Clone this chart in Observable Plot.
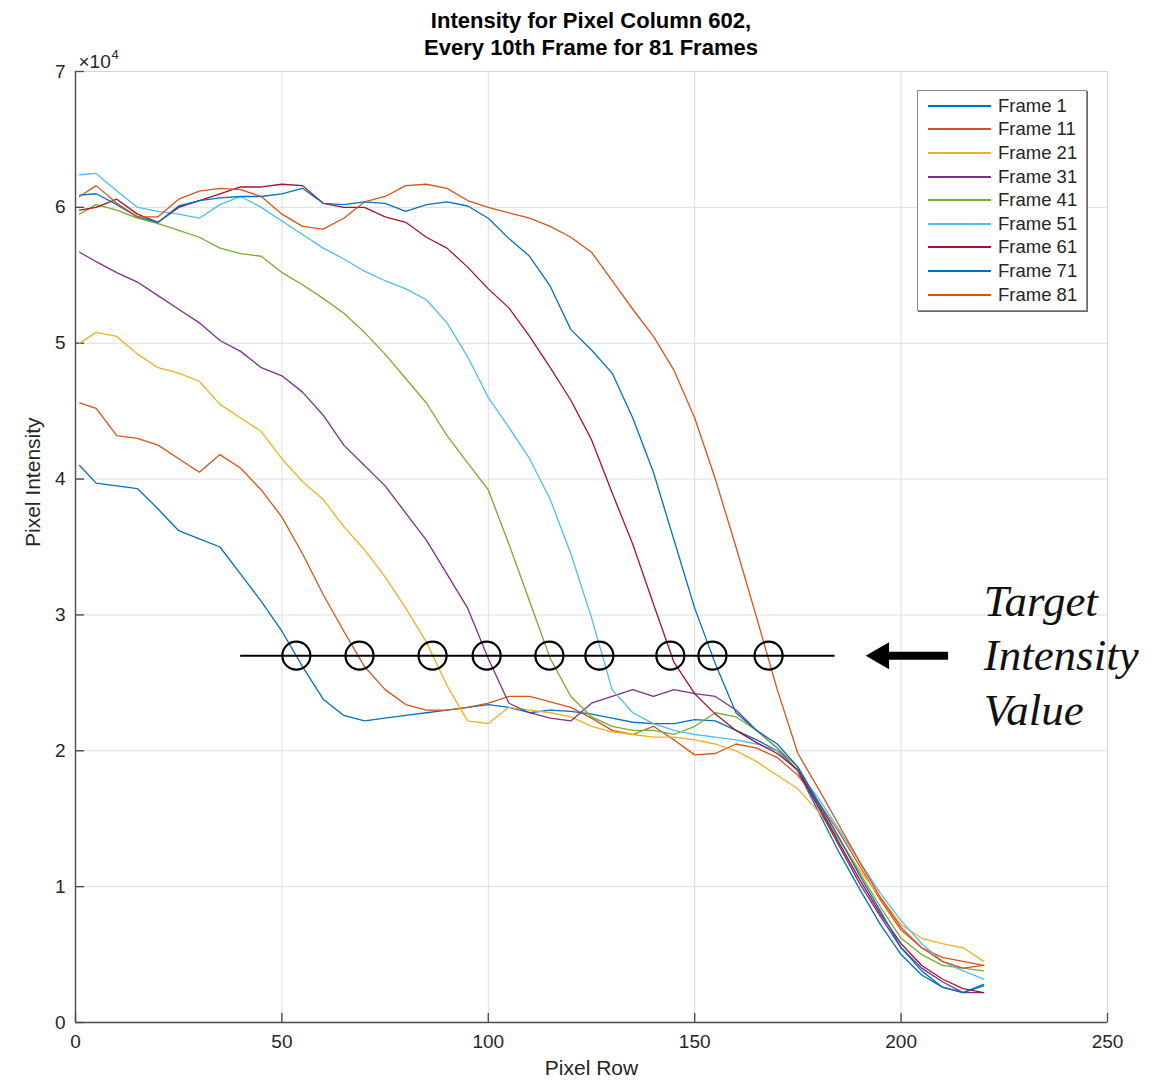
<!DOCTYPE html>
<html>
<head>
<meta charset="utf-8">
<script src="https://cdn.jsdelivr.net/npm/d3@7"></script>
<script src="https://cdn.jsdelivr.net/npm/@observablehq/plot@0.6"></script>
<style>
  body { margin: 0; background: #fff; font-family: "Liberation Sans", Arial, sans-serif; }
  #wrap { position: relative; width: 1170px; height: 1084px; overflow: hidden; }
  #title { box-sizing: border-box; width: 1170px; height: 58px; padding: 7px 63px 0 75px;
           text-align: center; font-weight: bold; font-size: 22px; line-height: 27px; color: #000; }
  #legend { position: absolute; left: 917px; top: 90px; width: 170px; height: 221px; box-sizing: border-box;
            border: 1px solid #8c8c8c; box-shadow: 1px 1px 0 #6a6a6a; background: #fff; padding-top: 3px; }
  .row { height: 23.6px; display: flex; align-items: center; }
  .swatch { width: 63px; height: 0; border-top: 2px solid; margin-left: 10px; margin-right: 7px; }
  .lab { font-size: 18.5px; color: #262626; white-space: nowrap; }
  svg { display: block; }
</style>
</head>
<body>
<div id="wrap">
  <div id="title">Intensity for Pixel Column 602,<br>Every 10th Frame for 81 Frames</div>
  <div id="chart"></div>
  <div id="legend"></div>
</div>
<script>
// ---- data (intensity in units of 10^4) ----
const frames = ["Frame 1","Frame 11","Frame 21","Frame 31","Frame 41","Frame 51","Frame 61","Frame 71","Frame 81"];
const colors = ["#0072BD","#D95319","#EDB120","#7E2F8E","#77AC30","#4DBEEE","#A2142F","#0072BD","#D95319"];
const rows = [1,5,10,15,20,25,30,35,40,45,50,55,60,65,70,75,80,85,90,95,100,105,110,115,120,125,130,135,140,145,150,155,160,165,170,175,180,185,190,195,200,205,210,215,220];

const frame1  = [4.10,3.97,3.95,3.93,3.78, 3.62,3.56,3.50,3.30,3.10, 2.88,2.62,2.38,2.26,2.22, 2.24,2.26,2.28,2.30,2.32, 2.34,2.32,2.28,2.30,2.29, 2.27,2.24,2.21,2.20,2.20, 2.23,2.22,2.15,2.08,2.00, 1.85,1.55,1.25,0.98,0.72, 0.50,0.35,0.26,0.22,0.27];
const frame11 = [4.56,4.52,4.32,4.30,4.25, 4.15,4.05,4.18,4.08,3.92, 3.72,3.45,3.15,2.88,2.62, 2.45,2.34,2.30,2.30,2.32, 2.35,2.40,2.40,2.36,2.32, 2.24,2.15,2.12,2.18,2.08, 1.97,1.98,2.05,2.02,1.95, 1.82,1.62,1.40,1.15,0.90, 0.68,0.55,0.48,0.45,0.42];
const frame21 = [5.00,5.08,5.05,4.92,4.82, 4.78,4.72,4.55,4.45,4.35, 4.15,3.98,3.85,3.65,3.48, 3.28,3.05,2.80,2.48,2.22, 2.20,2.32,2.30,2.28,2.25, 2.18,2.14,2.12,2.10,2.10, 2.08,2.05,2.00,1.92,1.82, 1.72,1.55,1.35,1.12,0.92, 0.72,0.62,0.58,0.55,0.45];
const frame31 = [5.67,5.60,5.52,5.45,5.35, 5.25,5.15,5.02,4.94,4.82, 4.76,4.64,4.47,4.25,4.10, 3.95,3.75,3.55,3.30,3.05, 2.68,2.35,2.28,2.24,2.22, 2.35,2.40,2.45,2.40,2.45, 2.42,2.40,2.30,2.15,2.02, 1.85,1.58,1.30,1.02,0.78, 0.55,0.40,0.30,0.22,0.22];
const frame41 = [5.95,6.02,5.98,5.92,5.88, 5.83,5.78,5.70,5.66,5.64, 5.52,5.43,5.33,5.22,5.08, 4.92,4.74,4.56,4.32,4.12, 3.92,3.52,3.10,2.68,2.40, 2.25,2.18,2.15,2.15,2.12, 2.18,2.28,2.25,2.15,2.02, 1.88,1.62,1.35,1.10,0.85, 0.62,0.50,0.42,0.40,0.38];
const frame51 = [6.24,6.25,6.12,6.00,5.97, 5.95,5.92,6.02,6.08,6.00, 5.90,5.80,5.70,5.62,5.53, 5.46,5.40,5.32,5.15,4.90, 4.60,4.38,4.15,3.85,3.45, 2.98,2.45,2.28,2.20,2.15, 2.12,2.10,2.08,2.05,2.00, 1.85,1.65,1.42,1.18,0.95, 0.75,0.58,0.45,0.38,0.32];
const frame61 = [5.98,6.00,6.06,5.95,5.89, 6.00,6.05,6.10,6.15,6.15, 6.17,6.16,6.03,6.00,6.00, 5.93,5.89,5.78,5.70,5.56, 5.40,5.26,5.05,4.82,4.58, 4.29,3.90,3.52,3.08,2.65, 2.42,2.27,2.15,2.06,1.98, 1.86,1.60,1.32,1.05,0.80, 0.58,0.42,0.32,0.25,0.22];
const frame71 = [6.09,6.10,6.02,5.93,5.89, 6.01,6.05,6.07,6.08,6.08, 6.10,6.14,6.03,6.02,6.04, 6.03,5.97,6.02,6.04,6.01, 5.92,5.77,5.64,5.42,5.10, 4.95,4.78,4.45,4.05,3.55, 3.05,2.64,2.28,2.15,2.05, 1.88,1.62,1.36,1.08,0.82, 0.55,0.38,0.26,0.22,0.28];
const frame81 = [6.08,6.16,6.03,5.93,5.93, 6.06,6.12,6.14,6.13,6.08, 5.95,5.86,5.84,5.92,6.04, 6.08,6.16,6.17,6.14,6.05, 6.00,5.96,5.92,5.86,5.78, 5.67,5.46,5.25,5.05,4.80, 4.45,4.00,3.50,2.98,2.45, 1.98,1.72,1.45,1.18,0.92, 0.70,0.55,0.45,0.40,0.42];
const seriesValues = [frame1, frame11, frame21, frame31, frame41, frame51, frame61, frame71, frame81];

// annotation values
const targetIntensity = 2.7;                 // ×10^4
const crossingRows = [53.5, 68.8, 86.5, 99.6, 114.8, 126.9, 144.1, 154.3, 167.9];
const targetLineRows = [40, 184];
const arrowShaftRows = [197, 211.5];
const arrowHeadRow = [195.2];
const annotationRow = 220;
const annotationWords = ["Target", "Intensity", "Value"];

// axes
const xTicks = [0, 50, 100, 150, 200, 250];
const yTicks = [0, 1, 2, 3, 4, 5, 6, 7];
const xLabel = "Pixel Row";
const yLabel = "Pixel Intensity";
const yMultiplier = "×10";
const yExponent = "4";

// ---- build table ----
const table = frames.flatMap((f, i) => rows.map((r, j) => ({frame: f, row: r, value: seriesValues[i][j]})));

const axisColor = "#4d4d4d";
const textColor = "#262626";

const chart = Plot.plot({
  width: 1170,
  height: 1026,
  marginTop: 13,
  marginBottom: 62,
  marginLeft: 75,
  marginRight: 63,
  style: {fontFamily: "Liberation Sans, Arial, sans-serif", overflow: "visible", background: "transparent"},
  x: {domain: [0, 250]},
  y: {domain: [0, 7]},
  color: {domain: frames, range: colors},
  marks: [
    Plot.gridX(xTicks, {stroke: "#dedede", strokeOpacity: 1}),
    Plot.gridY(yTicks, {stroke: "#dedede", strokeOpacity: 1}),
    Plot.frame({stroke: "#d4d4d4"}),
    Plot.ruleX([0], {stroke: axisColor, strokeWidth: 1.4}),
    Plot.ruleY([0], {stroke: axisColor, strokeWidth: 1.4}),
    // inward ticks
    Plot.axisX({ticks: xTicks, tickSize: 9, dy: -9, fill: "none", stroke: axisColor, strokeWidth: 1.4, label: null}),
    Plot.axisY({ticks: yTicks, tickSize: 9, dx: 9, fill: "none", stroke: axisColor, strokeWidth: 1.4, label: null}),
    // tick labels
    Plot.axisX({ticks: xTicks, tickSize: 0, tickPadding: 12, fontSize: 19, fill: textColor, label: null}),
    Plot.axisY({ticks: yTicks, tickSize: 0, tickPadding: 10, fontSize: 19, fill: textColor, label: null, tickFormat: d3.format("d")}),
    Plot.text([xLabel], {frameAnchor: "bottom", dy: 46, lineAnchor: "middle", fontSize: 21, fill: textColor}),
    Plot.text([yLabel], {frameAnchor: "left", dx: -42, rotate: -90, lineAnchor: "middle", fontSize: 21, fill: textColor}),
    Plot.text([yMultiplier], {frameAnchor: "top-left", textAnchor: "start", lineAnchor: "bottom", dx: 3, dy: -4, fontSize: 19, fill: textColor}),
    Plot.text([yExponent], {frameAnchor: "top-left", textAnchor: "start", lineAnchor: "bottom", dx: 36, dy: -13, fontSize: 13, fill: textColor}),
    // series
    Plot.line(table, {x: "row", y: "value", z: "frame", stroke: "frame", strokeWidth: 1.3}),
    // annotation
    Plot.ruleY([targetIntensity], {y: d => d, x1: targetLineRows[0], x2: targetLineRows[1], stroke: "#000", strokeWidth: 2}),
    Plot.dot(crossingRows, {x: d => d, y: targetIntensity, r: 14, stroke: "#000", strokeWidth: 2.2, fill: "none"}),
    Plot.ruleY([targetIntensity], {y: d => d, x1: arrowShaftRows[0], x2: arrowShaftRows[1], stroke: "#000", strokeWidth: 8}),
    Plot.dot(arrowHeadRow, {x: d => d, y: targetIntensity, symbol: "triangle", r: 10, rotate: -90, fill: "#000", stroke: "none"}),
    ...annotationWords.map((w, i) => Plot.text([w], {
      x: annotationRow, y: targetIntensity, dy: (i - 1) * 54.5, textAnchor: "start", lineAnchor: "middle",
      fontFamily: "Liberation Serif, Times New Roman, serif", fontStyle: "italic", fontSize: 45, fill: "#111"
    }))
  ]
});
document.getElementById("chart").appendChild(chart);

// legend
const legend = document.getElementById("legend");
frames.forEach((f, i) => {
  const row = document.createElement("div");
  row.className = "row";
  const sw = document.createElement("span");
  sw.className = "swatch";
  sw.style.borderTopColor = colors[i];
  const lab = document.createElement("span");
  lab.className = "lab";
  lab.textContent = f;
  row.appendChild(sw);
  row.appendChild(lab);
  legend.appendChild(row);
});
</script>
</body>
</html>
